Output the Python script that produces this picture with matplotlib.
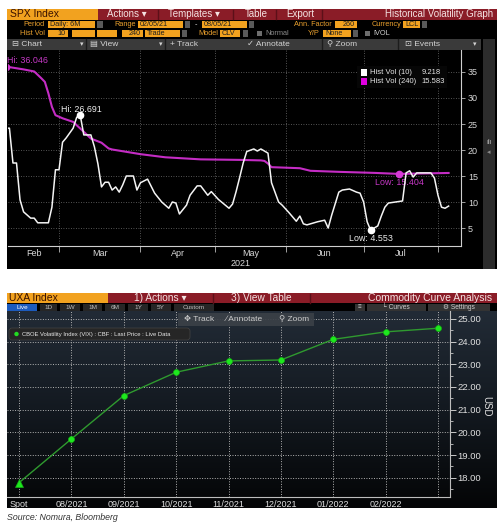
import numpy as np
import pandas as pd
import matplotlib
matplotlib.use('Agg')
import matplotlib.pyplot as plt
from matplotlib.patches import Rectangle, FancyBboxPatch, Circle
from matplotlib.colors import LinearSegmentedColormap
import matplotlib.ticker as mticker

plt.rcParams['font.family'] = ['Liberation Sans', 'DejaVu Sans']

# ---------------- data : SPX historical volatility (top panel) ----------------
HV_START, HV_END = '2021-02-05', '2021-08-05'
HOLIDAYS = ['2021-02-15', '2021-04-02', '2021-05-31', '2021-07-05']

HV10_DATES = [
    '2021-02-05', '2021-02-08', '2021-02-09', '2021-02-10', '2021-02-11', '2021-02-12',
    '2021-02-17', '2021-02-18', '2021-02-19', '2021-02-24', '2021-02-25', '2021-02-26',
    '2021-03-01', '2021-03-02', '2021-03-03', '2021-03-05', '2021-03-08', '2021-03-09',
    '2021-03-10', '2021-03-12', '2021-03-15', '2021-03-16', '2021-03-17', '2021-03-18',
    '2021-03-19', '2021-03-22', '2021-03-23', '2021-03-24', '2021-03-25', '2021-03-26',
    '2021-03-30', '2021-03-31', '2021-04-01', '2021-04-06', '2021-04-08', '2021-04-12',
    '2021-04-13', '2021-04-14', '2021-04-15', '2021-04-16', '2021-04-19', '2021-04-21',
    '2021-04-22', '2021-04-26', '2021-04-27', '2021-04-29', '2021-04-30', '2021-05-04',
    '2021-05-07', '2021-05-10', '2021-05-11', '2021-05-12', '2021-05-13', '2021-05-14',
    '2021-05-18', '2021-05-19', '2021-05-20', '2021-05-21', '2021-05-24', '2021-05-25',
    '2021-05-27', '2021-05-28', '2021-06-02', '2021-06-04', '2021-06-07', '2021-06-08',
    '2021-06-09', '2021-06-11', '2021-06-14', '2021-06-16', '2021-06-17', '2021-06-18',
    '2021-06-22', '2021-06-23', '2021-06-25', '2021-06-29', '2021-06-30', '2021-07-01',
    '2021-07-02', '2021-07-06', '2021-07-07', '2021-07-08', '2021-07-09', '2021-07-12',
    '2021-07-13', '2021-07-15', '2021-07-19', '2021-07-20', '2021-07-21', '2021-07-22',
    '2021-07-23', '2021-07-27', '2021-07-28', '2021-07-29', '2021-07-30', '2021-08-02',
    '2021-08-03', '2021-08-04', '2021-08-05']
HV10_VALUES = [
    24.2, 24.2, 17.5, 17.5, 10.4, 8.1,
    6.9, 6.9, 6.0, 6.0, 9.0, 16.2,
    16.2, 21.5, 22.3, 24.2, 26.3, 26.691,
    22.9, 22.9, 20.6, 17.3, 12.9, 13.8,
    13.8, 12.3, 12.9, 11.9, 13.3, 15.0,
    15.0, 12.3, 13.7, 14.4, 11.7, 10.0,
    9.4, 8.8, 10.0, 9.8, 7.7, 9.4,
    11.3, 13.1, 13.1, 11.3, 12.0, 10.5,
    8.8, 9.6, 12.0, 14.7, 17.5, 19.7,
    20.2, 19.8, 20.2, 19.8, 19.4, 13.7,
    10.0, 9.4, 7.9, 6.3, 7.3, 5.8,
    5.6, 6.0, 6.2, 6.5, 5.0, 7.5,
    11.9, 12.3, 12.5, 11.9, 11.7, 10.0,
    6.2, 4.553, 5.0, 5.4, 7.3, 9.0,
    9.8, 10.0, 10.2, 15.6, 16.0, 14.8,
    15.6, 15.6, 15.6, 15.6, 14.6, 11.3,
    9.0, 8.8, 9.218]

HV240_DATES = [
    '2021-02-05', '2021-02-12', '2021-02-18', '2021-02-22', '2021-02-23', '2021-02-24',
    '2021-02-25', '2021-02-26', '2021-03-02', '2021-03-05', '2021-03-10', '2021-03-12',
    '2021-03-17', '2021-03-19', '2021-03-22', '2021-04-01', '2021-04-13', '2021-04-27',
    '2021-05-12', '2021-05-20', '2021-05-21', '2021-05-24', '2021-05-25', '2021-06-07',
    '2021-06-10', '2021-06-22', '2021-07-07', '2021-07-16', '2021-08-05']
HV240_VALUES = [
    36.046, 35.5, 35.1, 33.8, 33.1, 30.9,
    28.3, 26.7, 26.1, 25.4, 23.5, 22.2,
    21.4, 20.3, 20.1, 19.2, 18.6, 18.2,
    18.1, 18.0, 17.9, 17.4, 16.7, 16.5,
    16.0, 15.8, 15.6, 15.404, 15.583]

HV10_LABEL, HV240_LABEL = 'Hist Vol (10)', 'Hist Vol (240)'
MONTH_LABELS = ['Feb', 'Mar', 'Apr', 'May', 'Jun', 'Jul']
YEAR_LABEL = '2021'
VOL_TICKS = [5, 10, 15, 20, 25, 30, 35]

# ---------------- data : VIX futures curve (bottom panel) ----------------
CURVE_LABELS = ['Spot', '08/2021', '09/2021', '10/2021', '11/2021', '12/2021',
                '01/2022', '02/2022', '03/2022']
CURVE_VALUES = [17.78, 19.71, 21.62, 22.65, 23.15, 23.19, 24.10, 24.43, 24.59]
USD_TICKS = [18, 19, 20, 21, 22, 23, 24, 25]

# ---------------- figure & helpers ----------------
W, H = 500, 529
fig = plt.figure(figsize=(W / 100, H / 100), dpi=100, facecolor='white')


def px_rect(l, t, r, b):
    return [l / W, 1 - b / H, (r - l) / W, (b - t) / H]


bg = fig.add_axes([0, 0, 1, 1], label='bg')
bg.set_zorder(0)
ax1 = fig.add_axes(px_rect(8, 50, 461, 246), label='hv')
ax1.set_zorder(1)
ax2 = fig.add_axes(px_rect(7, 311, 450, 497), label='curve')
ax2.set_zorder(1)
fg = fig.add_axes([0, 0, 1, 1], label='fg')
fg.set_zorder(2)


def R(ax, x0, y0, x1, y1, fc, **kw):
    ax.add_patch(Rectangle((x0, y0), x1 - x0, y1 - y0, facecolor=fc,
                           edgecolor=kw.pop('ec', 'none'), lw=kw.pop('lw', 0), **kw))


def T(ax, x, y, s, c, fs, ha='left', va='center', **kw):
    ax.text(x, y, s, color=c, fontsize=fs, ha=ha, va=va, **kw)


ORANGE = '#f2a21f'
ORANGE_TXT = '#eba12e'
RED = '#8a1c27'
RED_SEP = '#5c1018'
HEAD_TXT = '#f4e2e2'
GREYBOX = '#5a5a5a'

# ================= TOP PANEL chrome =================
R(bg, 7, 9, 497, 269, '#000000')
# row 1
R(bg, 7, 9, 98, 19.5, ORANGE)
T(bg, 10, 14.4, 'SPX Index', '#3a1200', 7.5)
R(bg, 98, 9, 497, 19.5, RED)
for xs in (158, 233, 276, 322):
    bg.plot([xs, xs], [9.5, 19], color=RED_SEP, lw=1)
T(bg, 107, 14.4, 'Actions \u25be', HEAD_TXT, 7)
T(bg, 168, 14.4, 'Templates \u25be', HEAD_TXT, 7)
T(bg, 245, 14.4, 'Table', HEAD_TXT, 7)
T(bg, 286, 14.4, 'Export', HEAD_TXT, 7)
T(bg, 493, 14.4, 'Historical Volatility Graph', HEAD_TXT, 7, ha='right')


def obox(x0, x1, yc, txt='', align='left'):
    R(bg, x0, yc - 3.6, x1, yc + 3.6, ORANGE)
    if txt:
        if align == 'left':
            T(bg, x0 + 2, yc + 0.2, txt, '#1e1e1e', 5.2)
        else:
            T(bg, x1 - 2, yc + 0.2, txt, '#1e1e1e', 5.2, ha='right')


def gbox(x0, x1, yc):
    R(bg, x0, yc - 3.6, x1, yc + 3.6, GREYBOX)


# row 2
y2 = 24.6
T(bg, 45, y2, 'Period', ORANGE_TXT, 5.3, ha='right')
obox(48, 95, y2, 'Daily: 6M')
gbox(97, 102.5, y2)
T(bg, 136, y2, 'Range', ORANGE_TXT, 5.3, ha='right')
obox(138, 183, y2, '02/05/21')
gbox(185, 190, y2)
T(bg, 196, y2, '-', '#dddddd', 5.3, ha='center')
obox(202, 247, y2, '08/05/21')
gbox(249, 254, y2)
T(bg, 332, y2, 'Ann. Factor', ORANGE_TXT, 5.3, ha='right')
obox(335, 357, y2, '260', align='right')
T(bg, 401, y2, 'Currency', ORANGE_TXT, 5.3, ha='right')
obox(403, 420, y2, 'LCL')
gbox(422, 427, y2)
# row 3
y3 = 33.6
T(bg, 45, y3, 'Hist Vol', ORANGE_TXT, 5.3, ha='right')
obox(48, 68, y3, '10', align='right')
obox(72, 95, y3)
obox(97, 117, y3)
obox(122, 143, y3, '240', align='right')
obox(145, 180, y3, 'Trade')
gbox(182, 187, y3)
T(bg, 218, y3, 'Model', ORANGE_TXT, 5.3, ha='right')
obox(220, 240, y3, 'CLV')
gbox(243, 248, y3)
R(bg, 257, y3 - 2.3, 262, y3 + 2.3, '#6e6e6e')
T(bg, 265, y3, 'Normal', '#8a8a8a', 5.3)
T(bg, 320, y3, 'Y/P', ORANGE_TXT, 5.3, ha='right')
obox(323, 351, y3, 'None')
gbox(353, 358, y3)
R(bg, 365, y3 - 2.3, 370, y3 + 2.3, '#6e6e6e')
T(bg, 373, y3, 'IVOL', '#cfcfcf', 5.3)
# row 4 toolbar
y4 = 44.6
R(bg, 7, 39, 481, 50, '#3a3a3a')
for xs in (86, 165, 322, 398):
    bg.plot([xs, xs], [39, 50], color='#1c1c1c', lw=1)
TB = '#d4d4d4'
T(bg, 12, y4, '\u229f Chart', TB, 6)
T(bg, 82, y4, '\u25be', TB, 5, ha='center')
T(bg, 90, y4, '\u25a4 View', TB, 6)
T(bg, 161, y4, '\u25be', TB, 5, ha='center')
T(bg, 170, y4, '+ Track', TB, 6)
T(bg, 247, y4, '\u2713 Annotate', TB, 6)
T(bg, 327, y4, '\u26b2 Zoom', TB, 6)
T(bg, 405, y4, '\u22a1 Events', TB, 6)
T(bg, 475, y4, '\u25be', TB, 5, ha='center')
# right strip
R(bg, 483, 39, 495, 269, '#2c2c2c')
T(bg, 489, 143, '\u0131l\u0131', '#bbbbbb', 5, ha='center')
T(bg, 489, 153, '\u25c2', '#8a8a8a', 5, ha='center')
T(bg, 241, 263, YEAR_LABEL, '#d8d8d8', 6.5, ha='center')

# ================= TOP CHART =================
trading_days = pd.bdate_range(HV_START, HV_END, freq='C', holidays=HOLIDAYS)


def day_pos(dates):
    idx = trading_days.get_indexer(pd.to_datetime(dates))
    assert (idx >= 0).all(), dates
    return idx


XL = (0.6, 128.5)
ax1.set_facecolor('#000000')
x10 = day_pos(HV10_DATES)
x240 = day_pos(HV240_DATES)
MAG = '#c42cc4'
ax1.plot(x240, HV240_VALUES, color=MAG, lw=1.5, zorder=3, solid_joinstyle='round')
ax1.plot(x10, HV10_VALUES, color='#f4f4f4', lw=1.1, zorder=4, solid_joinstyle='round')

i_hi240 = int(np.argmax(HV240_VALUES))
i_lo240 = int(np.argmin(HV240_VALUES))
i_hi10 = int(np.argmax(HV10_VALUES))
i_lo10 = int(np.argmin(HV10_VALUES))
for xs, ys, col in ((x240[i_hi240], HV240_VALUES[i_hi240], '#d63ad6'),
                    (x240[i_lo240], HV240_VALUES[i_lo240], '#d63ad6'),
                    (x10[i_hi10], HV10_VALUES[i_hi10], '#ffffff'),
                    (x10[i_lo10], HV10_VALUES[i_lo10], '#ffffff')):
    ax1.plot([xs], [ys], 'o', color=col, ms=4.5, zorder=5)

ann_kw = dict(textcoords='offset pixels', va='center', fontsize=6.4, zorder=2,
              annotation_clip=False)
ax1.annotate(f'Hi: {HV240_VALUES[i_hi240]:.3f}', xy=(x240[i_hi240], HV240_VALUES[i_hi240]),
             xytext=(1, 6), ha='left', color='#c638c6', **ann_kw)
ax1.annotate(f'Low: {HV240_VALUES[i_lo240]:.3f}', xy=(x240[i_lo240], HV240_VALUES[i_lo240]),
             xytext=(0, -9), ha='center', color='#c638c6', **ann_kw)
ax1.annotate(f'Hi: {HV10_VALUES[i_hi10]:.3f}', xy=(x10[i_hi10], HV10_VALUES[i_hi10]),
             xytext=(1, 6), ha='center', color='#eeeeee', **ann_kw)
ax1.annotate(f'Low: {HV10_VALUES[i_lo10]:.3f}', xy=(x10[i_lo10], HV10_VALUES[i_lo10]),
             xytext=(0, -8.5), ha='center', color='#eeeeee', **ann_kw)

ax1.set_xlim(*XL)
ax1.set_ylim(1.54, 39.23)
ax1.yaxis.tick_right()
ax1.set_yticks(VOL_TICKS)
ax1.tick_params(axis='y', color='#bbbbbb', labelcolor='#d8d8d8', labelsize=6.5,
                length=3, width=0.6, pad=2, direction='out')
months = trading_days.month
starts = [i for i in range(1, len(trading_days)) if months[i] != months[i - 1]]
edges = [XL[0]] + starts
mids = [(edges[k] + edges[k + 1]) / 2 for k in range(len(MONTH_LABELS))]
ax1.set_xticks(starts)
ax1.set_xticklabels([])
ax1.set_xticks(mids, minor=True)
ax1.set_xticklabels(MONTH_LABELS, minor=True)
ax1.tick_params(axis='x', which='major', color='#bbbbbb', length=4, width=0.6, direction='out')
ax1.tick_params(axis='x', which='minor', length=0, labelcolor='#d8d8d8', labelsize=6.5, pad=2.5)
ax1.grid(True, which='major', color='#6e6e6e', lw=0.6, ls=(0, (1, 2)))
for s in ('left', 'top'):
    ax1.spines[s].set_visible(False)
for s in ('right', 'bottom'):
    ax1.spines[s].set_color('#cfcfcf')
    ax1.spines[s].set_linewidth(0.8)

# legend (top chart)
R(fg, 357, 66, 447, 87.5, '#060606')
R(fg, 360.5, 69, 367, 75.5, '#ffffff')
R(fg, 360.5, 78, 367, 84.5, '#e000e0')
T(fg, 370, 72.4, HV10_LABEL, '#e6e6e6', 5.5)
T(fg, 370, 81.4, HV240_LABEL, '#e6e6e6', 5.5)
T(fg, 422, 72.4, f'{HV10_VALUES[-1]:.3f}', '#e6e6e6', 5.5)
T(fg, 421, 81.4, f'{HV240_VALUES[-1]:.3f}', '#e6e6e6', 5.5)

# ================= BOTTOM PANEL chrome =================
R(bg, 7, 293, 497, 508, '#000000')
R(bg, 7, 293, 108, 303, ORANGE)
T(bg, 9, 298.2, 'UXA Index', '#3a1200', 7.5)
R(bg, 108, 293, 497, 303, RED)
for xs in (213, 310):
    bg.plot([xs, xs], [293.5, 302.5], color=RED_SEP, lw=1)
T(bg, 134, 298.2, '1) Actions \u25be', HEAD_TXT, 7.3)
T(bg, 231, 298.2, '3) View Table', HEAD_TXT, 7.3)
T(bg, 492, 298.2, 'Commodity Curve Analysis', HEAD_TXT, 7.5, ha='right')
# row 2 tabs
y5 = 307.2
R(bg, 7, 304, 37, 310.5, '#1d5bbd')
T(bg, 22, y5, 'Live', '#ffffff', 4.6, ha='center')
for (a, b, s) in ((40, 57, '1D'), (60, 80, '1W'), (83, 102, '1M'), (105, 125, '6M'),
                  (128, 148, '1Y'), (151, 171, '5Y'), (174, 214, 'Custom')):
    R(bg, a, 304, b, 310.5, '#262626')
    T(bg, (a + b) / 2, y5, s, '#bdbdbd', 4.6, ha='center')
R(bg, 355, 304, 365, 310.5, '#333333')
T(bg, 360, y5, '\u2261', '#cfcfcf', 4.6, ha='center')
R(bg, 367, 304, 426, 310.5, '#333333')
T(bg, 396, y5, '\u2514 Curves', '#cfcfcf', 4.8, ha='center')
R(bg, 428, 304, 490, 310.5, '#333333')
T(bg, 459, y5, '\u2699 Settings', '#cfcfcf', 4.8, ha='center')
# gradient background of curve chart
grad = np.linspace(0, 1, 256).reshape(-1, 1)
cmap = LinearSegmentedColormap.from_list('bb', ['#222b36', '#131920', '#040506'])
bg.imshow(grad, extent=(7, 497, 508, 311), aspect='auto', cmap=cmap, zorder=1)

# ================= BOTTOM CHART =================
ax2.set_facecolor('none')
xc = np.arange(len(CURVE_LABELS))
ax2.plot(xc, CURVE_VALUES, color='#2f9a2f', lw=1.0, zorder=3)
ax2.plot(xc[1:], CURVE_VALUES[1:], 'o', ms=4.3, mfc='#1ee81e', mec='#13b013', mew=0.5, zorder=4)
ax2.plot(xc[:1], CURVE_VALUES[:1], '^', ms=5.5, mfc='#1ee81e', mec='#13b013', mew=0.5, zorder=4)
ax2.set_xlim(-0.23, len(CURVE_LABELS) - 1 + 0.23)
ax2.set_ylim(17.15, 25.35)
ax2.set_xticks(xc)
ax2.set_xticklabels(CURVE_LABELS[:-1] + [''])
ax2.yaxis.tick_right()
ax2.set_yticks(USD_TICKS)
ax2.yaxis.set_major_formatter(mticker.FormatStrFormatter('%.2f'))
ax2.yaxis.set_minor_locator(mticker.MultipleLocator(0.5))
ax2.tick_params(axis='x', length=0, labelcolor='#e0e0e0', labelsize=6.5, pad=2.2)
ax2.tick_params(axis='y', which='major', color='#c8c8c8', labelcolor='#e0e0e0', labelsize=6.8,
                length=4, width=0.7, pad=1.5, direction='out')
ax2.tick_params(axis='y', which='minor', color='#c8c8c8', length=2, width=0.6, direction='out')
ax2.grid(True, which='major', color='#b4b4b4', lw=0.7, ls=(0, (1, 1.6)))
for s in ('left', 'top'):
    ax2.spines[s].set_visible(False)
for s in ('right', 'bottom'):
    ax2.spines[s].set_color('#bdbdbd')
    ax2.spines[s].set_linewidth(0.8)
T(bg, 486, 406, 'USD', '#e0e0e0', 7, ha='center', rotation=270, zorder=2)

# overlays on curve chart
R(fg, 178, 313, 314, 326, '#3b4047', alpha=0.92)
T(fg, 184, 319.5, '\u2725 Track', '#cfcfcf', 6)
T(fg, 226, 319.5, '\u2215 Annotate', '#cfcfcf', 6)
T(fg, 279, 319.5, '\u26b2 Zoom', '#cfcfcf', 6)
fg.add_patch(FancyBboxPatch((9, 328), 181, 12, boxstyle='round,pad=0,rounding_size=3',
                            facecolor='#262626', edgecolor='#444444', lw=0.5))
fg.add_patch(Circle((16.5, 334), 2.2, facecolor='#22dd22', edgecolor='none'))
T(fg, 22, 334.2, 'CBOE Volatility Index (VIX) : CBF : Last Price : Live Data', '#e8e8e8', 4.2)

T(bg, 7, 517, 'Source: Nomura, Bloomberg', '#333333', 6.3, style='italic', zorder=2)

for a in (bg, fg):
    a.set_xlim(0, W)
    a.set_ylim(H, 0)
    a.axis('off')

fig.savefig('out.png', dpi=100, facecolor='white')
